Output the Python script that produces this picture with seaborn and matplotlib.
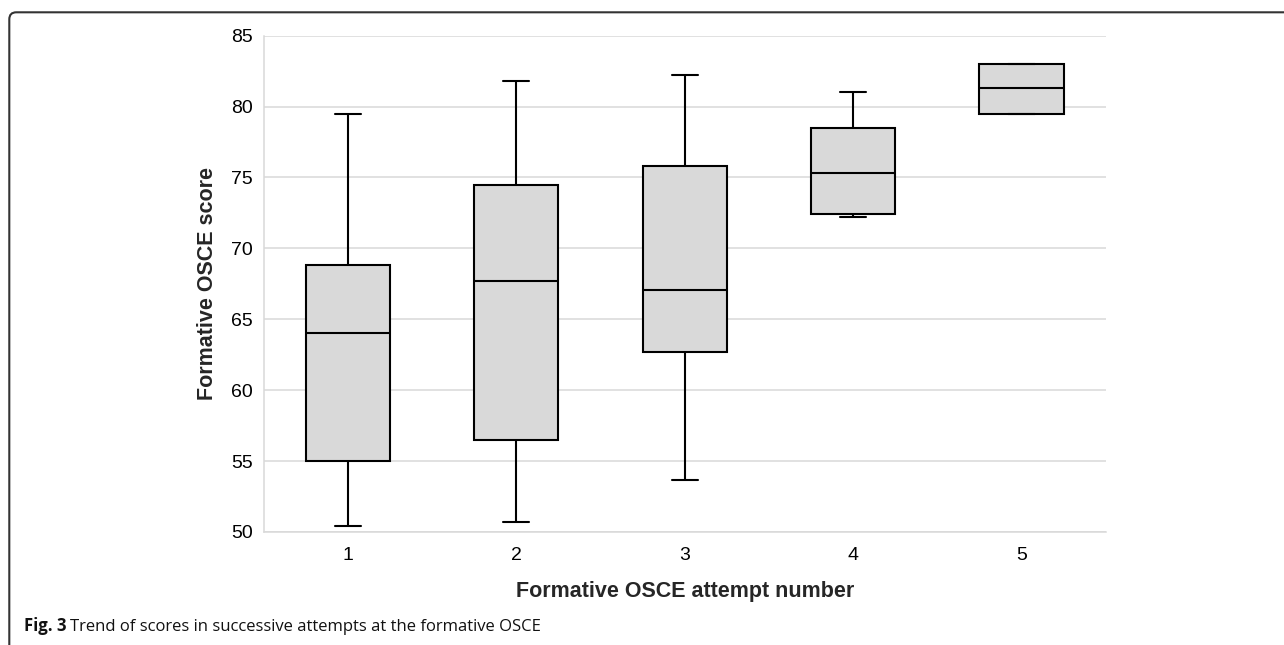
# Formative OSCE scores by attempt number - box plot recreation

import numpy as np
import pandas as pd
import seaborn as sns
import matplotlib.pyplot as plt
from matplotlib.patches import FancyBboxPatch

# Five-number summaries, one entry per attempt
attempts = ["1", "2", "3", "4", "5"]
score_min = [50.4, 50.7, 53.7, 72.2, 79.5]
score_q1 = [55.0, 56.5, 62.7, 72.4, 79.5]
score_median = [64.0, 67.7, 67.1, 75.3, 81.3]
score_q3 = [68.8, 74.5, 75.8, 78.5, 83.0]
score_max = [79.5, 81.8, 82.2, 81.0, 83.0]

y_ticks = [50, 55, 60, 65, 70, 75, 80, 85]

# Long table: five values per attempt give exactly these quartiles
rows = []
for i, a in enumerate(attempts):
    for v in (score_min[i], score_q1[i], score_median[i], score_q3[i], score_max[i]):
        rows.append({"attempt": a, "score": v})
df = pd.DataFrame(rows)

sns.set_theme(style="white")
plt.rcParams["font.family"] = ["Liberation Sans", "DejaVu Sans"]

fig = plt.figure(figsize=(12.84, 6.45), dpi=100)
ax = fig.add_axes([0.2054, 0.1752, 0.8611 - 0.2054, 0.9447 - 0.1752])

line_kw = dict(color="black", linewidth=1.5)
sns.boxplot(data=df, x="attempt", y="score", order=attempts, ax=ax,
            whis=(0, 100), width=0.5, color="#d9d9d9", fill=True,
            boxprops=dict(facecolor="#d9d9d9", edgecolor="black", linewidth=1.5),
            medianprops=line_kw, whiskerprops=line_kw, capprops=line_kw,
            capwidths=0.155, showfliers=False)

# Axis styling: light grey grid, no ticks
ax.set_ylim(50, 85)
ax.set_yticks(y_ticks)
ax.set_xlim(-0.5, 4.5)
ax.yaxis.grid(True, color="#d9d9d9", linewidth=1.1)
ax.set_axisbelow(True)
for side in ["top", "right"]:
    ax.spines[side].set_visible(False)
for side in ["left", "bottom"]:
    ax.spines[side].set_color("#d9d9d9")
    ax.spines[side].set_linewidth(1.1)
ax.tick_params(axis="both", length=0, labelsize=14, colors="black")
ax.tick_params(axis="y", pad=8)
ax.tick_params(axis="x", pad=11)

ax.set_xlabel("Formative OSCE attempt number", fontsize=15.5, fontweight="bold", labelpad=12)
ax.set_ylabel("Formative OSCE score", fontsize=15.5, fontweight="bold", labelpad=9)

# Rounded frame around the figure (only top and left edges visible)
frame = FancyBboxPatch((0.093, -1.0), 20, 6.327 + 1.0,
                       boxstyle="round,pad=0,rounding_size=0.07",
                       transform=fig.dpi_scale_trans, fill=False,
                       edgecolor="#333333", linewidth=1.5, clip_on=False)
fig.add_artist(frame)

# Caption: bold "Fig. 3" followed by regular text
renderer = fig.canvas.get_renderer()
cap1 = fig.text(24 / 1284, 1 - 631 / 645, "Fig. 3", fontsize=12, fontweight="bold",
                family=["Open Sans", "DejaVu Sans"], color="#111111", va="baseline")
bb = cap1.get_window_extent(renderer=renderer)
fig.text((bb.x1 + 4) / 1284, 1 - 631 / 645,
         "Trend of scores in successive attempts at the formative OSCE",
         fontsize=12, family=["Open Sans", "DejaVu Sans"], color="#111111", va="baseline")

fig.savefig("out.png", dpi=100)
